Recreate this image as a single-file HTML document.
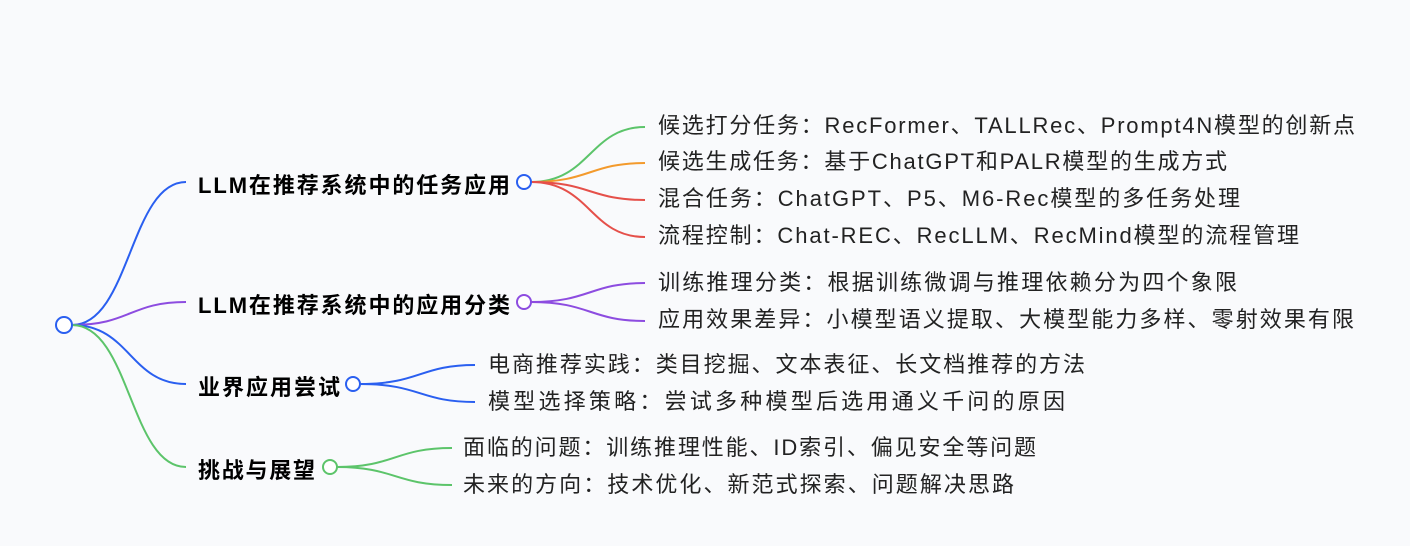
<!DOCTYPE html>
<html><head><meta charset="utf-8"><style>
body{margin:0;background:#f9fafc;}
svg{display:block}
text{font-family:"Liberation Sans","Noto Sans CJK SC",sans-serif;font-size:22px;fill:#222;dominant-baseline:middle}
.b{font-weight:bold;fill:#000;font-size:22px}
path{fill:none;stroke-width:2}
</style></head><body>
<svg width="1410" height="546" viewBox="0 0 1410 546">
<path d="M72,325 C130,325 130,182 186,182" stroke="#2a5ff0"/>
<path d="M72,325 C130,325 130,302 186,302" stroke="#8d4ce0"/>
<path d="M72,325 C130,325 130,384 186,384" stroke="#2a5ff0"/>
<path d="M72,325 C130,325 130,467 186,467" stroke="#5cc46a"/>
<circle cx="64" cy="325" r="8" fill="#fff" stroke="#2a5ff0" stroke-width="2"/>

<text class="b" x="198" y="187" textLength="312" lengthAdjust="spacing">LLM在推荐系统中的任务应用</text>
<text class="b" x="198" y="307" textLength="312" lengthAdjust="spacing">LLM在推荐系统中的应用分类</text>
<text class="b" x="198" y="389" textLength="142" lengthAdjust="spacing">业界应用尝试</text>
<text class="b" x="198" y="472" textLength="117" lengthAdjust="spacing">挑战与展望</text>

<path d="M531,182 C590,182 590,127 645,127" stroke="#5cc46a"/>
<path d="M531,182 C590,182 590,163 645,163" stroke="#f39a2c"/>
<path d="M531,182 C590,182 590,200 645,200" stroke="#e5504a"/>
<path d="M531,182 C590,182 590,237 645,237" stroke="#e5504a"/>
<circle cx="524" cy="182" r="7" fill="#fff" stroke="#2a5ff0" stroke-width="2"/>
<text x="658" y="127" textLength="697" lengthAdjust="spacing">候选打分任务：RecFormer、TALLRec、Prompt4N模型的创新点</text>
<text x="658" y="163" textLength="569" lengthAdjust="spacing">候选生成任务：基于ChatGPT和PALR模型的生成方式</text>
<text x="658" y="200" textLength="582" lengthAdjust="spacing">混合任务：ChatGPT、P5、M6-Rec模型的多任务处理</text>
<text x="658" y="237" textLength="641" lengthAdjust="spacing">流程控制：Chat-REC、RecLLM、RecMind模型的流程管理</text>

<path d="M531,302 C590,302 590,283 645,283" stroke="#8d4ce0"/>
<path d="M531,302 C590,302 590,321 645,321" stroke="#8d4ce0"/>
<circle cx="524" cy="302" r="7" fill="#fff" stroke="#8d4ce0" stroke-width="2"/>
<text x="658" y="284" textLength="579" lengthAdjust="spacing">训练推理分类：根据训练微调与推理依赖分为四个象限</text>
<text x="658" y="321" textLength="696" lengthAdjust="spacing">应用效果差异：小模型语义提取、大模型能力多样、零射效果有限</text>

<path d="M360,384 C420,384 420,365 475,365" stroke="#2a5ff0"/>
<path d="M360,384 C420,384 420,402 475,402" stroke="#2a5ff0"/>
<circle cx="353" cy="384" r="7" fill="#fff" stroke="#2a5ff0" stroke-width="2"/>
<text x="488" y="366" textLength="597" lengthAdjust="spacing">电商推荐实践：类目挖掘、文本表征、长文档推荐的方法</text>
<text x="488" y="403" textLength="577" lengthAdjust="spacing">模型选择策略：尝试多种模型后选用通义千问的原因</text>

<path d="M337,467 C395,467 395,448 452,448" stroke="#5cc46a"/>
<path d="M337,467 C395,467 395,485 452,485" stroke="#5cc46a"/>
<circle cx="330" cy="467" r="7" fill="#fff" stroke="#5cc46a" stroke-width="2"/>
<text x="463" y="449" textLength="573" lengthAdjust="spacing">面临的问题：训练推理性能、ID索引、偏见安全等问题</text>
<text x="463" y="486" textLength="551" lengthAdjust="spacing">未来的方向：技术优化、新范式探索、问题解决思路</text>
</svg>
</body></html>
